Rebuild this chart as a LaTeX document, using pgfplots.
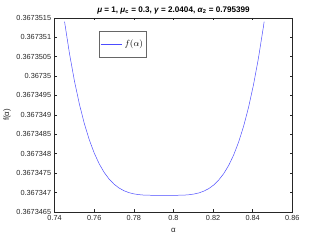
\documentclass[border=0pt]{standalone}
\usepackage{pgfplots}
\pgfplotsset{compat=1.18}
\usepackage{fontspec}
\setmainfont{Liberation Sans}
\definecolor{axgray}{RGB}{38,38,38}
\begin{document}
\begin{tikzpicture}
\begin{axis}[
  scale only axis,
  width=240pt, height=196pt,
  xmin=0.74, xmax=0.86,
  ymin=0, ymax=5,
  xtick={0.74,0.76,0.78,0.8,0.82,0.84,0.86},
  xticklabels={0.74,0.76,0.78,0.8,0.82,0.84,0.86},
  ytick={0,0.5,1,1.5,2,2.5,3,3.5,4,4.5,5},
  yticklabels={0.3673465,0.367347,0.3673475,0.367348,0.3673485,0.367349,0.3673495,0.36735,0.3673505,0.367351,0.3673515},
  tick align=inside,
  major tick length=2.5pt,
  axis line style={axgray, line width=0.4pt},
  tick style={axgray, line width=0.4pt},
  ticklabel style={font=\fontsize{7.4}{8}\selectfont, text=axgray},
  xlabel={α},
  ylabel={f(α)},
  label style={font=\fontsize{8}{9}\selectfont, text=axgray},
  xlabel style={yshift=-1pt},
  ylabel style={yshift=-1pt},
  title={\textbf{\textit{μ} = 1, \textit{μ}\textsubscript{c} = 0.3, \textit{γ} = 2.0404, \textit{α}\textsubscript{2} = 0.795399}},
  title style={font=\fontsize{8.2}{9}\selectfont, yshift=-5.5pt},
  legend style={at={(0.185,0.934)}, anchor=north west, draw=gray!80!black, line width=0.4pt, font=\fontsize{9.5}{10}\selectfont, inner xsep=1.5pt, inner ysep=7pt, row sep=0pt},
  legend image code/.code={\draw[#1] (0pt,0pt) -- (22pt,0pt);},
  legend cell align=left,
]
\addplot[blue!70!white, line width=0.5pt] table {
x y
0.745 4.904
0.7475 4.079
0.75 3.374
0.7525 2.777
0.755 2.275
0.7575 1.858
0.76 1.516
0.7625 1.239
0.765 1.019
0.7675 0.8465
0.77 0.715
0.7725 0.617
0.775 0.546
0.7775 0.497
0.78 0.465
0.7825 0.445
0.785 0.434
0.79 0.427
0.7954 0.426
0.8004 0.427
0.8054 0.433
0.8079 0.443
0.8104 0.461
0.8129 0.490
0.8154 0.537
0.8179 0.603
0.8204 0.697
0.8229 0.825
0.8254 0.988
0.8279 1.199
0.8304 1.467
0.8329 1.799
0.8354 2.203
0.8379 2.691
0.8404 3.272
0.8429 3.959
0.8454 4.764
0.8458 4.904
};
\addlegendentry{$f(\alpha)$}
\end{axis}
\path (current axis.south west) ++(-52pt,-27pt) coordinate (bl);
\path (current axis.north east) ++(30pt,18pt) coordinate (tr);
\useasboundingbox (bl) rectangle (tr);
\end{tikzpicture}
\end{document}
